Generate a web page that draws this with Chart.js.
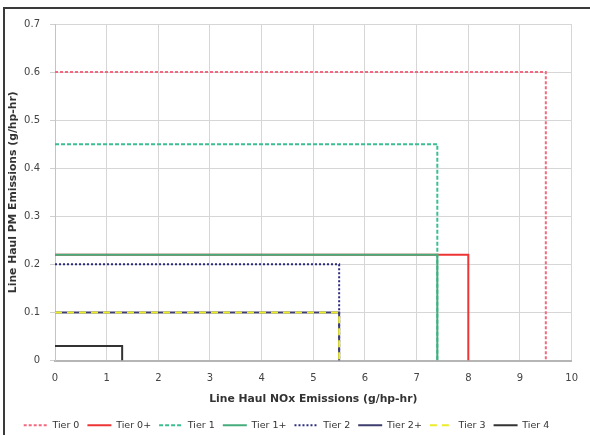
<!DOCTYPE html>
<html>
<head>
<meta charset="utf-8">
<script src="https://cdn.jsdelivr.net/npm/chart.js@4/dist/chart.umd.min.js"></script>
<style>
  html, body { margin: 0; padding: 0; background: #fff; overflow: hidden; }
  #wrap { position: relative; width: 590px; height: 435px; overflow: hidden; }
  #c { position: absolute; left: 0; top: 0; }
  #frame { position: absolute; left: 3px; top: 7px; right: -10px; bottom: -10px;
           border-top: 2px solid #3a3a3a; border-left: 2px solid #3a3a3a; pointer-events: none; }
</style>
</head>
<body>
<div id="wrap">
  <canvas id="c" width="590" height="440"></canvas>
  <div id="frame"></div>
</div>
<script>
// EPA line-haul locomotive emission limits, by tier
const tierNames = ['Tier 0', 'Tier 0+', 'Tier 1', 'Tier 1+', 'Tier 2', 'Tier 2+', 'Tier 3', 'Tier 4'];
const noxLimits = [9.5, 8.0, 7.4, 7.4, 5.5, 5.5, 5.5, 1.3];      // g/hp-hr
const pmLimits  = [0.60, 0.22, 0.45, 0.22, 0.20, 0.10, 0.10, 0.03]; // g/hp-hr

// axis ticks
const xTickValues = [0, 1, 2, 3, 4, 5, 6, 7, 8, 9, 10];
const yTickLabels = ['0', '0.1', '0.2', '0.3', '0.4', '0.5', '0.6', '0.7'];

// line styling per tier
const tierColors = ['#f2687e', '#ee3535', '#3cbf90', '#45ad7c', '#2d2d80', '#3d3d6e', '#ecec2a', '#333333'];
const tierDashes = [[3, 2], [], [4, 2], [], [2, 2], [], [7, 5], []];
const tierWidths = [2, 2, 2, 2, 2, 2, 2, 2];

// each tier is a box: from the PM limit across to the NOx limit, then down to zero
const datasets = tierNames.map((name, i) => ({
  label: name,
  data: [
    { x: 0, y: pmLimits[i] },
    { x: noxLimits[i], y: pmLimits[i] },
    { x: noxLimits[i], y: 0 }
  ],
  showLine: true,
  borderColor: tierColors[i],
  backgroundColor: tierColors[i],
  borderWidth: tierWidths[i],
  borderDash: tierDashes[i],
  pointRadius: 0,
  pointHoverRadius: 0,
  fill: false,
  tension: 0,
  order: tierNames.length - i
}));

const axisFont = { family: 'DejaVu Sans', size: 10 };
const titleFont = { family: 'DejaVu Sans', size: 10.8, weight: 'bold' };

new Chart(document.getElementById('c'), {
  type: 'scatter',
  data: { datasets },
  options: {
    responsive: false,
    animation: false,
    devicePixelRatio: 1,
    layout: { padding: { left: 0, right: 17, top: 24, bottom: 0 } },
    plugins: {
      tooltip: { enabled: false },
      legend: {
        position: 'bottom',
        labels: {
          usePointStyle: true,
          pointStyleWidth: 24,
          padding: 8,
          color: '#333',
          font: { family: 'DejaVu Sans', size: 9.5 },
          generateLabels(chart) {
            return chart.data.datasets.map((ds, i) => ({
              text: ds.label,
              datasetIndex: i,
              strokeStyle: ds.borderColor,
              fillStyle: ds.borderColor,
              lineWidth: ds.borderWidth,
              lineDash: ds.borderDash,
              pointStyle: 'line',
              hidden: false,
              fontColor: '#333'
            }));
          }
        }
      }
    },
    scales: {
      x: {
        type: 'linear',
        min: 0,
        max: 10,
        afterBuildTicks(axis) { axis.ticks = xTickValues.map(v => ({ value: v })); },
        afterFit(axis) { axis.height = 52; },
        grid: { color: '#d6d6d6', lineWidth: 1, drawTicks: false },
        border: { color: '#b5b5b5', width: 2 },
        ticks: { color: '#444', font: axisFont, padding: 12, maxRotation: 0,
                 callback: v => String(v) },
        title: { display: true, text: 'Line Haul NOx Emissions (g/hp-hr)', color: '#333',
                 font: titleFont, padding: { top: 0, bottom: 7 } }
      },
      y: {
        type: 'linear',
        min: 0,
        max: 0.7,
        afterBuildTicks(axis) { axis.ticks = yTickLabels.map(s => ({ value: parseFloat(s) })); },
        afterFit(axis) { axis.width = 55; },
        grid: { color: '#d6d6d6', lineWidth: 1, drawTicks: true, tickLength: 5, tickColor: '#cfcfcf' },
        border: { color: '#c4c4c4', width: 1 },
        ticks: { color: '#444', font: axisFont, padding: 10,
                 callback: (v, idx) => yTickLabels[idx] },
        title: { display: true, text: 'Line Haul PM Emissions (g/hp-hr)', color: '#333',
                 font: titleFont, padding: { top: 7, bottom: 0 } }
      }
    }
  }
});
</script>
</body>
</html>
